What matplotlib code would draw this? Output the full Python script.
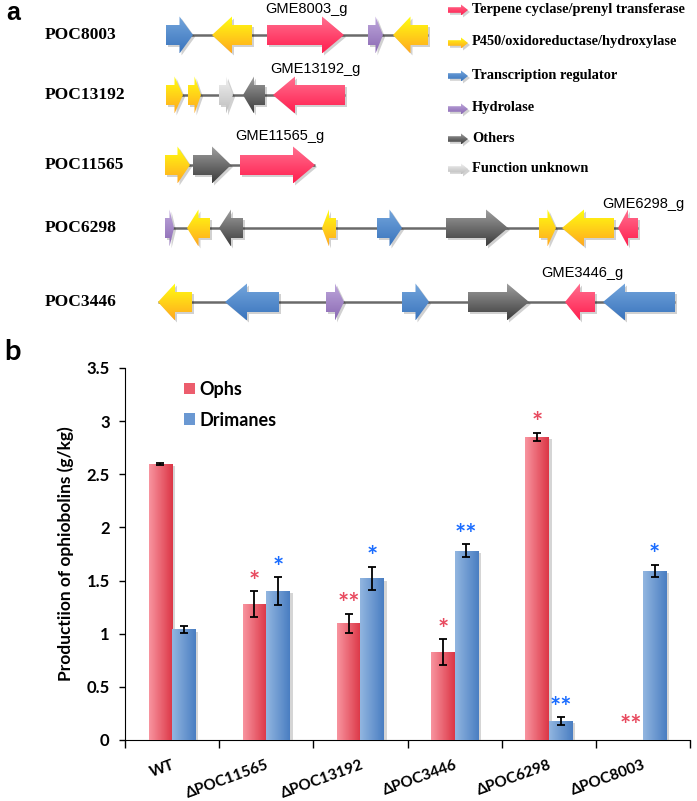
import numpy as np
import matplotlib
matplotlib.use('Agg')
import matplotlib.pyplot as plt
from matplotlib.patches import Polygon, Patch
from matplotlib.colors import LinearSegmentedColormap
from matplotlib import patheffects as pe

plt.rcParams['font.family'] = ['Lato', 'DejaVu Sans']

# ---- panel a: gene clusters (positions along the locus, schematic units) ----
clusters = ['POC8003', 'POC13192', 'POC11565', 'POC6298', 'POC3446']
row_y = [35, 95, 165, 228, 302]
line_span = [(166, 428), (166, 345), (166, 315), (165, 638), (158, 675)]

genes_8003 = [(166, 193, 1, 'reg'), (212, 252, -1, 'p450'), (267, 344, 1, 'tc'),
              (368, 383, 1, 'hyd'), (393, 428, -1, 'p450')]
genes_13192 = [(166, 183, 1, 'p450'), (188, 201, 1, 'p450'), (219, 233, 1, 'unk'),
               (243, 265, -1, 'oth'), (273, 345, -1, 'tc')]
genes_11565 = [(165, 190, 1, 'p450'), (193, 231, 1, 'oth'), (240, 315, 1, 'tc')]
genes_6298 = [(165, 174, 1, 'hyd'), (187, 210, -1, 'p450'), (219, 243, -1, 'oth'),
              (322, 336, -1, 'p450'), (377, 402, 1, 'reg'), (446, 508, 1, 'oth'),
              (539, 556, 1, 'p450'), (562, 614, -1, 'p450'), (618, 638, -1, 'tc')]
genes_3446 = [(158, 192, -1, 'p450'), (225, 279, -1, 'reg'), (326, 344, 1, 'hyd'),
              (402, 429, 1, 'reg'), (468, 529, 1, 'oth'), (565, 595, -1, 'tc'),
              (603, 675, -1, 'reg')]
cluster_genes = [genes_8003, genes_13192, genes_11565, genes_6298, genes_3446]

gene_tags = ['GME8003_g', 'GME13192_g', 'GME11565_g', 'GME6298_g', 'GME3446_g']
tag_pos = [(306, 9), (315, 69), (280, 136), (643, 204), (582, 273)]

legend_keys = ['tc', 'p450', 'reg', 'hyd', 'oth', 'unk']
legend_names = ['Terpene cyclase/prenyl transferase', 'P450/oxidoreductase/hydroxylase',
                'Transcription regulator', 'Hydrolase', 'Others', 'Function unknown']
legend_y = [9, 42, 75, 108, 138, 168]

gene_colors = {
    'tc': ('#ff7090', '#ff1f4f'),
    'p450': ('#ffff10', '#ffa820'),
    'reg': ('#74a6dc', '#3a74bd'),
    'hyd': ('#bfa8dc', '#8a69b3'),
    'oth': ('#a0a0a0', '#3c3c3c'),
    'unk': ('#f2f2f2', '#bdbdbd'),
}

# ---- panel b: production ----
groups = ['WT', 'ΔPOC11565', 'ΔPOC13192', 'ΔPOC3446', 'ΔPOC6298', 'ΔPOC8003']
ophs = [2.60, 1.28, 1.10, 0.83, 2.85, 0.0]
ophs_err = [0.01, 0.12, 0.09, 0.12, 0.04, 0.0]
drim = [1.04, 1.40, 1.52, 1.78, 0.18, 1.59]
drim_err = [0.03, 0.13, 0.11, 0.06, 0.035, 0.06]
ophs_sig = ['', '*', '**', '*', '*', '**']
drim_sig = ['', '*', '*', '**', '**', '*']


def gene_arrow(ax, x0, x1, y, strand, kind, bh=10, hh=18.5, hmax=22):
    h = min(hmax, 0.5 * (x1 - x0))
    if strand > 0:
        b = x1 - h
        v = [(x0, y - bh), (b, y - bh), (b, y - hh), (x1, y), (b, y + hh), (b, y + bh), (x0, y + bh)]
    else:
        b = x0 + h
        v = [(x1, y - bh), (b, y - bh), (b, y - hh), (x0, y), (b, y + hh), (b, y + bh), (x1, y + bh)]
    v = np.array(v, dtype=float)
    sh = Polygon(v + [2, 2], closed=True, fc='black', ec='none', alpha=0.18, zorder=2)
    ax.add_patch(sh)
    poly = Polygon(v, closed=True, fc='none', ec='none', zorder=3)
    ax.add_patch(poly)
    c1, c2 = gene_colors[kind]
    cmap = LinearSegmentedColormap.from_list('g', [c1, c2])
    g = np.linspace(0, 1, 64)[:, None]
    im = ax.imshow(g, cmap=cmap, extent=(v[:, 0].min(), v[:, 0].max(), v[:, 1].max(), v[:, 1].min()),
                   origin='upper', aspect='auto', zorder=3, interpolation='bilinear')
    im.set_clip_path(poly)


fig = plt.figure(figsize=(6.97, 8.01), dpi=100)

ax_a = fig.add_axes([0, 0, 1, 1])
ax_a.set_axis_off()

for name, y, span, genes, tag, tp in zip(clusters, row_y, line_span, cluster_genes, gene_tags, tag_pos):
    ax_a.plot(span, [y, y], color='#6a6a6a', lw=1.8, zorder=1, solid_capstyle='butt')
    for x0, x1, s, k in genes:
        gene_arrow(ax_a, x0, x1, y, s, k)
    ax_a.text(45, y, name, family='Liberation Serif', weight='bold', fontsize=12.5,
              ha='left', va='center')
    ax_a.text(tp[0], tp[1], tag, family='Liberation Sans', fontsize=10.5,
              ha='center', va='center')

for k, nm, y in zip(legend_keys, legend_names, legend_y):
    gene_arrow(ax_a, 448, 468, y + 1, 1, k, bh=2.8, hh=5.5, hmax=7)
    ax_a.text(472, y, nm, family='Liberation Serif', weight='bold', fontsize=10.4,
              ha='left', va='center')

ax_a.text(6, 13, 'a', family='Liberation Sans', weight='bold', fontsize=18, ha='left', va='center')
ax_a.text(4, 352, 'b', weight='bold', fontsize=21, ha='left', va='center')
ax_a.set_xlim(0, 697)
ax_a.set_ylim(801, 0)

# ---- panel b ----
ax = fig.add_axes([125 / 697, 61 / 801, 565 / 697, 372 / 801])
ax.set_facecolor('none')
x = np.arange(len(groups))
w = 0.25
shadow = [pe.SimplePatchShadow(offset=(2, -1.5), shadow_rgbFace='#888888', alpha=0.35), pe.Normal()]
b1 = ax.bar(x - w / 2, ophs, w, color='#ec5d6d', zorder=3, path_effects=shadow)
b2 = ax.bar(x + w / 2, drim, w, color='#6a98d2', zorder=3, path_effects=shadow)

bar_grad = [('#f8949f', '#dc3646'), ('#92b6e0', '#4a7ec2')]
g = np.linspace(0, 1, 64)[None, :]
for bars, (c1, c2) in zip([b1, b2], bar_grad):
    cmap = LinearSegmentedColormap.from_list('b', [c1, c2])
    for r in bars:
        if r.get_height() <= 0:
            continue
        im = ax.imshow(g, cmap=cmap, extent=(r.get_x(), r.get_x() + r.get_width(), 0, r.get_height()),
                       origin='lower', aspect='auto', zorder=3.5, interpolation='bilinear')
        im.set_clip_path(r)

for xs, vals, errs in [(x - w / 2, ophs, ophs_err), (x + w / 2, drim, drim_err)]:
    m = np.array(errs) > 0
    ax.errorbar(np.array(xs)[m], np.array(vals)[m], yerr=np.array(errs)[m], fmt='none',
                ecolor='black', elinewidth=1.3, capsize=3, capthick=1.3, zorder=5)

for xs, vals, errs, sig, col in [(x - w / 2, ophs, ophs_err, ophs_sig, '#e84a5f'),
                                 (x + w / 2, drim, drim_err, drim_sig, '#1a6cff')]:
    for xi, v, e, s in zip(xs, vals, errs, sig):
        if s:
            off = 1 if v > 0 else 4
            ax.annotate(s, (xi, v + e), xytext=(0, off), textcoords='offset points',
                        ha='center', va='baseline', color=col, fontsize=19, weight='bold')

ax.set_xlim(-0.5, len(groups) - 0.5)
ax.set_ylim(0, 3.5)
ax.spines['top'].set_visible(False)
ax.spines['right'].set_visible(False)
ax.set_xticks(np.arange(len(groups) + 1) - 0.5)
ax.set_xticklabels([])
ax.set_xticks(x, minor=True)
ax.set_xticklabels(groups, minor=True, rotation=20, ha='right', rotation_mode='anchor',
                   fontsize=11, weight='bold')
ax.tick_params(axis='x', which='major', length=6, width=1, direction='out')
ax.tick_params(axis='x', which='minor', length=0, pad=13)
ax.set_yticks(np.arange(0, 3.51, 0.5))
ax.set_yticklabels(['0', '0.5', '1', '1.5', '2', '2.5', '3', '3.5'], fontsize=12, weight='bold')
ax.tick_params(axis='y', length=4, width=1, pad=7)
ax.set_ylabel('Productiion of ophiobolins (g/kg)', fontsize=12.5, weight='bold', labelpad=9)

handles = [Patch(facecolor='#ec5d6d'), Patch(facecolor='#6a98d2')]
ax.legend(handles, ['Ophs', 'Drimanes'], loc='upper left', bbox_to_anchor=(0.105, 0.965),
          frameon=False, handlelength=0.6, handleheight=0.6, handletextpad=0.25,
          labelspacing=0.75, borderaxespad=0, borderpad=0,
          prop={'weight': 'bold', 'size': 13})

fig.savefig('out.png', dpi=100)
